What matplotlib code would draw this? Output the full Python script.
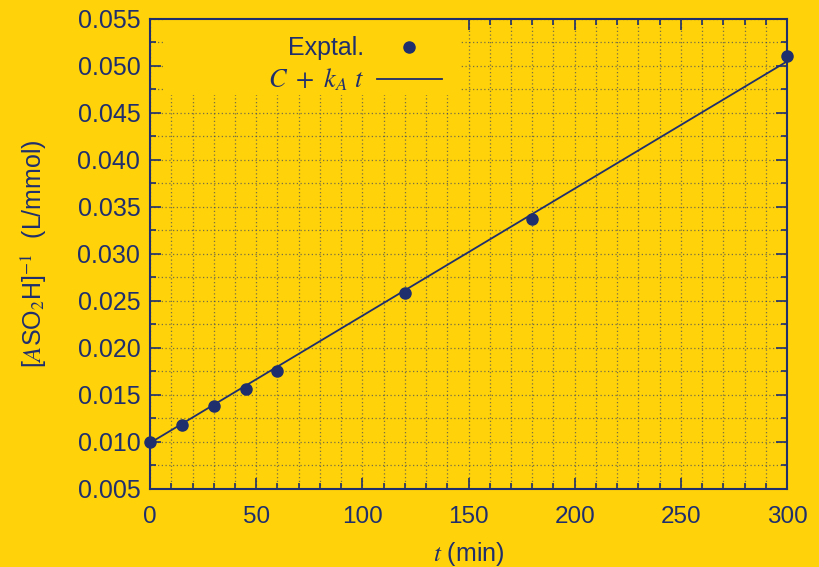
import matplotlib
matplotlib.use("Agg")
import matplotlib.pyplot as plt
from matplotlib.ticker import MultipleLocator, FormatStrFormatter
from matplotlib.patches import Rectangle
import numpy as np

plt.rcParams['font.family'] = ['Liberation Sans', 'DejaVu Sans']
plt.rcParams['mathtext.fontset'] = 'stix'

BG = '#FFD20A'
NAVY = '#1F2F6E'

# Experimental data: time (min) and inverse concentration (L/mmol)
t_min = [0, 15, 30, 45, 60, 120, 180, 300]
inv_conc = [0.0100, 0.0118, 0.0138, 0.0156, 0.0176, 0.0259, 0.0337, 0.0511]

# Linear fit parameters C + k_A t
fit_C = 0.0099
fit_kA = 0.0001353

fig = plt.figure(figsize=(8.19, 5.67), dpi=100, facecolor=BG)
ax = fig.add_axes([0.1832, 0.1376, 0.7778, 0.8289], facecolor=BG)

tt = np.array([0, 300])
ax.plot(tt, fit_C + fit_kA * tt, color=NAVY, lw=1.3,
        label=r'$C\ +\ k_A\ t$', zorder=3)
ax.plot(t_min, inv_conc, 'o', color=NAVY, ms=8, label='Exptal.',
        zorder=4, clip_on=False)

ax.set_xlim(0, 300)
ax.set_ylim(0.005, 0.055)
ax.xaxis.set_major_locator(MultipleLocator(50))
ax.xaxis.set_minor_locator(MultipleLocator(10))
ax.yaxis.set_major_locator(MultipleLocator(0.005))
ax.yaxis.set_minor_locator(MultipleLocator(0.0025))
ax.yaxis.set_major_formatter(FormatStrFormatter('%.3f'))

ax.grid(which='both', color=NAVY, ls=(0, (1, 2)), lw=0.9, alpha=0.6, zorder=1)
ax.set_axisbelow(True)

# blank panel behind the key
ax.add_patch(Rectangle((0.0235, 0.838), 0.463, 0.162, transform=ax.transAxes,
                       facecolor=BG, edgecolor='none', zorder=2))

for s in ax.spines.values():
    s.set_color(NAVY)
    s.set_linewidth(1.5)
ax.tick_params(which='both', direction='in', top=True, right=True,
               colors=NAVY, width=1.2)
ax.tick_params(which='major', length=8)
ax.tick_params(which='minor', length=4)
ax.tick_params(axis='y', labelsize=18, pad=7)
ax.tick_params(axis='x', labelsize=17.5, pad=12)
for lab in ax.get_xticklabels() + ax.get_yticklabels():
    lab.set_color(NAVY)

ax.set_xlabel(r'$t$ (min)', color=NAVY, fontsize=18, labelpad=9)
ax.set_ylabel(r'[$A$SO$_2$H]$^{-1}$  (L/mmol)', color=NAVY, fontsize=18,
              labelpad=0)
ax.yaxis.set_label_coords(-0.158, 0.5)

handles, labels = ax.get_legend_handles_labels()
leg = ax.legend(handles[::-1], labels[::-1], loc='upper right',
                bbox_to_anchor=(0.458, 0.963), markerfirst=False,
                frameon=False, fontsize=18, handlelength=2.6,
                borderpad=0, borderaxespad=0, labelspacing=0.25,
                handletextpad=0.5)
for txt in leg.get_texts():
    txt.set_color(NAVY)
    txt.set_ha('right')
leg.get_texts()[1].set_fontsize(19)
leg.set_zorder(5)

fig.savefig('out.png', dpi=100, facecolor=BG)
